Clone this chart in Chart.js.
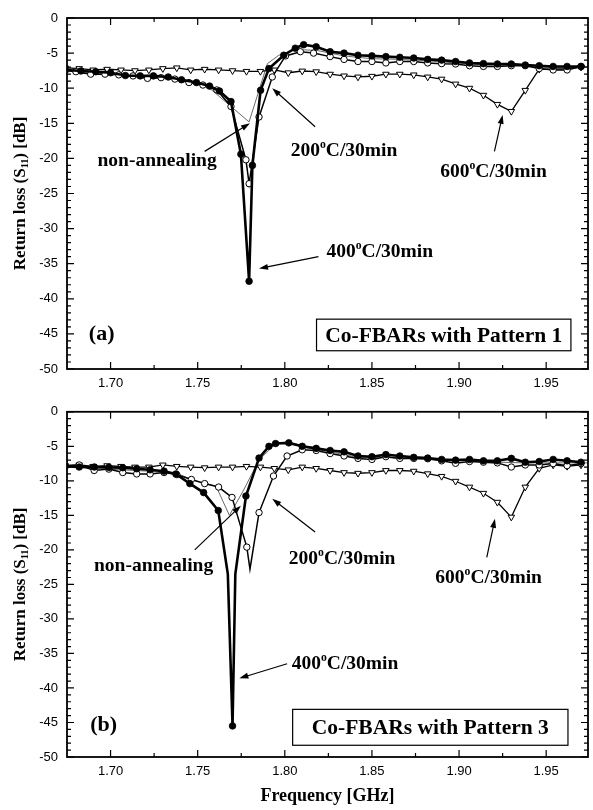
<!DOCTYPE html>
<html>
<head>
<meta charset="utf-8">
<script src="https://cdn.jsdelivr.net/npm/chart.js@4.4.1/dist/chart.umd.min.js"></script>
<style>
  html, body { margin: 0; padding: 0; background: #fff; }
  .panel { position: absolute; left: 0; width: 593px; }
  #wrapA { top: 0; height: 395px; }
  #wrapB { top: 395px; height: 415px; }
</style>
</head>
<body>
<div class="panel" id="wrapA"><canvas id="chartA"></canvas></div>
<div class="panel" id="wrapB"><canvas id="chartB"></canvas></div>
<script>
/* ===== DATA ===== */
const xTicks = [1.70, 1.75, 1.80, 1.85, 1.90, 1.95];
const yTicks = [0, -5, -10, -15, -20, -25, -30, -35, -40, -45, -50];

// (a) Pattern 1
const a400Freq = [1.674, 1.683, 1.6915, 1.700, 1.7085, 1.717, 1.7246, 1.7331, 1.7407, 1.7493, 1.7568, 1.7625, 1.7691, 1.7748, 1.7795, 1.7814, 1.7861, 1.7909, 1.7994, 1.806, 1.8108, 1.818, 1.826, 1.834, 1.842, 1.850, 1.858, 1.866, 1.874, 1.882, 1.890, 1.898, 1.906, 1.914, 1.922, 1.930, 1.938, 1.946, 1.954, 1.962, 1.970];
const a400Db   = [-7.4, -7.55, -7.65, -7.8, -8.2, -8.25, -8.25, -8.4, -8.8, -9.2, -9.7, -10.4, -11.9, -19.4, -37.5, -21.0, -10.3, -7.2, -5.3, -4.3, -3.8, -4.1, -4.8, -5.0, -5.3, -5.4, -5.5, -5.6, -5.7, -5.9, -6.0, -6.2, -6.4, -6.5, -6.55, -6.55, -6.7, -6.8, -6.9, -6.9, -6.9];

const a200Freq = [1.674, 1.6801, 1.6886, 1.6968, 1.7047, 1.7129, 1.7212, 1.729, 1.7369, 1.745, 1.753, 1.761, 1.7691, 1.7777, 1.7795, 1.7852, 1.7928, 1.8004, 1.8089, 1.8165, 1.826, 1.834, 1.842, 1.850, 1.858, 1.866, 1.874, 1.882, 1.890, 1.898, 1.906, 1.914, 1.922, 1.930, 1.938, 1.946, 1.954, 1.962, 1.970];
const a200Db   = [-7.5, -7.65, -8.0, -8.0, -8.1, -8.25, -8.6, -8.5, -8.7, -9.2, -9.55, -10.25, -12.6, -20.2, -23.6, -14.1, -8.4, -5.4, -4.8, -5.0, -5.5, -5.9, -6.2, -6.2, -6.4, -6.2, -6.2, -6.4, -6.5, -6.55, -6.8, -6.9, -6.9, -6.8, -6.8, -7.2, -7.4, -7.4, -6.9];

const aNonFreq = [1.674, 1.690, 1.706, 1.722, 1.738, 1.754, 1.7691, 1.7795, 1.790, 1.7966, 1.806, 1.818, 1.834, 1.850, 1.866, 1.882, 1.898, 1.914, 1.930, 1.946, 1.962, 1.974];
const aNonDb   = [-7.4, -7.8, -8.1, -8.4, -8.6, -9.4, -12.6, -14.8, -6.5, -5.3, -4.5, -4.6, -5.4, -5.8, -5.9, -6.1, -6.4, -6.7, -6.7, -7.0, -7.1, -6.9];

const a600Freq = [1.674, 1.682, 1.690, 1.698, 1.706, 1.714, 1.722, 1.730, 1.738, 1.746, 1.754, 1.762, 1.770, 1.778, 1.786, 1.794, 1.802, 1.810, 1.818, 1.826, 1.834, 1.842, 1.850, 1.858, 1.866, 1.874, 1.882, 1.890, 1.898, 1.906, 1.914, 1.922, 1.930, 1.938, 1.946, 1.954, 1.962, 1.970];
const a600Db   = [-7.1, -7.2, -7.4, -7.3, -7.4, -7.5, -7.4, -7.2, -7.1, -7.4, -7.3, -7.4, -7.5, -7.6, -7.6, -7.4, -7.8, -7.55, -7.65, -8.0, -8.25, -8.4, -8.3, -8.0, -8.0, -8.1, -8.4, -8.7, -9.4, -10.0, -11.0, -12.3, -13.3, -10.3, -7.3, -7.3, -7.2, -7.0];

// (b) Pattern 3
const b400Freq = [1.674, 1.682, 1.6907, 1.699, 1.707, 1.715, 1.7227, 1.7307, 1.7375, 1.7455, 1.7534, 1.7618, 1.7673, 1.770, 1.7716, 1.7777, 1.7852, 1.7909, 1.7947, 1.8023, 1.810, 1.818, 1.826, 1.834, 1.842, 1.850, 1.858, 1.866, 1.874, 1.882, 1.890, 1.898, 1.906, 1.914, 1.922, 1.930, 1.938, 1.946, 1.954, 1.962, 1.970];
const b400Db   = [-7.9, -8.0, -8.0, -8.05, -8.1, -8.25, -8.4, -8.6, -9.0, -10.4, -11.7, -14.3, -23.5, -45.5, -23.5, -12.2, -6.7, -5.0, -4.6, -4.5, -5.0, -5.3, -5.6, -5.8, -6.4, -6.5, -6.2, -6.4, -6.6, -6.7, -6.9, -7.0, -6.9, -7.1, -7.1, -6.75, -7.3, -7.2, -6.9, -7.1, -7.3];
const b400Plain = [1.7673, 1.7716];   // curve points without a marker

const b200Freq = [1.674, 1.682, 1.6906, 1.699, 1.707, 1.715, 1.7227, 1.7307, 1.738, 1.7464, 1.754, 1.762, 1.7697, 1.7782, 1.780, 1.7852, 1.7935, 1.8013, 1.810, 1.818, 1.826, 1.834, 1.842, 1.850, 1.858, 1.866, 1.874, 1.882, 1.890, 1.898, 1.906, 1.914, 1.922, 1.930, 1.938, 1.946, 1.954, 1.962, 1.970];
const b200Db   = [-7.8, -7.7, -8.5, -8.3, -8.8, -9.0, -9.0, -8.8, -9.1, -9.8, -10.4, -10.9, -12.4, -19.6, -22.8, -14.6, -9.3, -6.4, -5.5, -5.6, -6.05, -6.4, -6.75, -6.9, -6.5, -6.75, -6.75, -6.8, -7.1, -7.46, -7.2, -7.3, -7.4, -8.0, -7.7, -7.7, -7.5, -7.8, -7.5];
const b200Plain = [1.780];

const bNonFreq = [1.674, 1.690, 1.706, 1.722, 1.738, 1.7464, 1.7606, 1.7682, 1.776, 1.7852, 1.7947, 1.803, 1.810, 1.826, 1.842, 1.858, 1.874, 1.890, 1.906, 1.922, 1.938, 1.954, 1.974];
const bNonDb   = [-7.9, -8.2, -8.4, -8.6, -8.9, -9.8, -10.8, -15.0, -11.5, -7.0, -4.6, -4.6, -5.1, -5.8, -6.6, -6.6, -6.8, -7.0, -7.1, -7.3, -7.4, -7.4, -7.4];

const b600Freq = a600Freq;
const b600Db   = [-7.8, -7.7, -7.9, -7.8, -7.9, -8.0, -8.0, -7.7, -7.9, -8.0, -8.1, -8.0, -8.0, -7.9, -8.0, -8.2, -8.4, -8.0, -8.2, -8.5, -8.8, -8.9, -8.8, -8.5, -8.5, -8.6, -8.97, -9.35, -10.06, -10.9, -11.8, -13.1, -15.25, -10.9, -8.2, -7.7, -7.9, -7.7];

/* ===== HELPERS ===== */
const pts = (f, d) => f.map((v, i) => ({ x: v, y: d[i] }));
const SERIF = '"Liberation Serif", "Times New Roman", serif';
const SANS = '"Liberation Sans", Arial, sans-serif';
const T400 = [['400'], ['o', 'sup'], ['C/30min']];
const T200 = [['200'], ['o', 'sup'], ['C/30min']];
const T600 = [['600'], ['o', 'sup'], ['C/30min']];
const TNON = [['non-annealing']];
const YTITLE = [['Return loss (S'], ['11', 'sub'], [') [dB]']];

function richText(ctx, parts, x, y, size, align) {
  const w = parts.map(p => {
    ctx.font = `bold ${p[1] ? size * 0.6 : size}px ${SERIF}`;
    return ctx.measureText(p[0]).width;
  });
  const total = w.reduce((a, b) => a + b, 0);
  let cx = align === 'center' ? x - total / 2 : x;
  ctx.textBaseline = 'alphabetic';
  ctx.textAlign = 'left';
  const base = y + size * 0.33;
  parts.forEach((p, i) => {
    ctx.font = `bold ${p[1] ? size * 0.6 : size}px ${SERIF}`;
    const dy = p[1] === 'sup' ? -size * 0.42 : p[1] === 'sub' ? size * 0.2 : 0;
    ctx.fillText(p[0], cx, base + dy);
    cx += w[i];
  });
}

function arrow(ctx, x1, y1, x2, y2) {
  const a = Math.atan2(y2 - y1, x2 - x1), L = 9, W = 3;
  ctx.lineWidth = 1.2;
  ctx.beginPath();
  ctx.moveTo(x1, y1);
  ctx.lineTo(x2 - Math.cos(a) * L * 0.8, y2 - Math.sin(a) * L * 0.8);
  ctx.stroke();
  ctx.beginPath();
  ctx.moveTo(x2, y2);
  ctx.lineTo(x2 - L * Math.cos(a) + W * Math.sin(a), y2 - L * Math.sin(a) - W * Math.cos(a));
  ctx.lineTo(x2 - L * Math.cos(a) - W * Math.sin(a), y2 - L * Math.sin(a) + W * Math.cos(a));
  ctx.closePath();
  ctx.fill();
}

/* ===== FRAME, TICKS, NOTES ===== */
const decor = {
  id: 'decor',
  afterDatasetsDraw(chart, args, o) {
    const { ctx, chartArea: ca, scales: { x, y } } = chart;
    ctx.save();
    ctx.strokeStyle = '#000';
    ctx.fillStyle = '#000';

    // inward ticks on all four sides
    ctx.lineWidth = 1.2;
    ctx.beginPath();
    xTicks.forEach(v => {
      [[v, 7], [v + 0.025, 4]].forEach(([t, len]) => {
        const px = x.getPixelForValue(t);
        if (px < ca.left || px > ca.right) return;
        ctx.moveTo(px, ca.bottom); ctx.lineTo(px, ca.bottom - len);
        ctx.moveTo(px, ca.top); ctx.lineTo(px, ca.top + len);
      });
    });
    for (let t = -50; t <= 0; t++) {
      const py = y.getPixelForValue(t);
      const len = t % 5 === 0 ? 7 : 4;
      ctx.moveTo(ca.left, py); ctx.lineTo(ca.left + len, py);
      ctx.moveTo(ca.right, py); ctx.lineTo(ca.right - len, py);
    }
    ctx.stroke();

    ctx.lineWidth = 1.8;
    ctx.strokeRect(ca.left, ca.top, ca.width, ca.height);

    // y title
    ctx.save();
    ctx.translate(19, (ca.top + ca.bottom) / 2);
    ctx.rotate(-Math.PI / 2);
    richText(ctx, YTITLE, 0, 0, 17, 'center');
    ctx.restore();

    // annotations
    o.notes.forEach(n => {
      arrow(ctx, x.getPixelForValue(n.from[0]), y.getPixelForValue(n.from[1]),
                 x.getPixelForValue(n.to[0]), y.getPixelForValue(n.to[1]));
      richText(ctx, n.text, x.getPixelForValue(n.at[0]), y.getPixelForValue(n.at[1]), 19.5, n.align);
    });

    // panel tag
    richText(ctx, [[o.tag]], x.getPixelForValue(o.tagAt[0]), y.getPixelForValue(o.tagAt[1]), 22, 'center');

    // legend box
    const bl = x.getPixelForValue(o.box[0]), br = x.getPixelForValue(o.box[1]);
    const bt = y.getPixelForValue(o.box[2]), bb = y.getPixelForValue(o.box[3]);
    ctx.fillStyle = '#fff';
    ctx.fillRect(bl, bt, br - bl, bb - bt);
    ctx.fillStyle = '#000';
    ctx.lineWidth = 1.2;
    ctx.strokeRect(bl, bt, br - bl, bb - bt);
    richText(ctx, [[o.boxText]], (bl + br) / 2, (bt + bb) / 2, 21.5, 'center');
    ctx.restore();
  }
};

function datasets(s) {
  const plainR = (plain, r) => ctx => (plain.includes(ctx.raw.x) ? 0 : r);
  return [
    { data: pts(s.f400, s.d400), borderColor: '#000', backgroundColor: '#000', borderWidth: 2.6,
      pointRadius: plainR(s.p400, 3.3), pointBackgroundColor: '#000', pointBorderWidth: 0.8 },
    { data: pts(s.f200, s.d200), borderColor: '#000', borderWidth: 1.5,
      pointRadius: plainR(s.p200, 3.2), pointBackgroundColor: '#fff', pointBorderColor: '#000', pointBorderWidth: 1 },
    { data: pts(s.f600, s.d600), borderColor: '#000', borderWidth: 1.3, pointStyle: 'triangle', rotation: 180,
      pointRadius: 3.8, pointBackgroundColor: '#fff', pointBorderColor: '#000', pointBorderWidth: 1 },
    { data: pts(s.fNon, s.dNon), borderColor: '#444', borderWidth: 0.8, pointRadius: 0 }
  ];
}

function makePanel(id, s, cfg) {
  return new Chart(document.getElementById(id), {
    type: 'line',
    data: { datasets: datasets(s) },
    options: {
      responsive: true,
      maintainAspectRatio: false,
      animation: false,
      layout: { padding: { top: cfg.padTop, right: 1, left: 0, bottom: 0 } },
      elements: { line: { tension: 0 } },
      plugins: { legend: { display: false }, tooltip: { enabled: false }, decor: cfg },
      scales: {
        x: {
          type: 'linear', min: 1.675, max: 1.974,
          afterBuildTicks: sc => { sc.ticks = xTicks.map(v => ({ value: v })); },
          afterFit: sc => { sc.height = cfg.xH; },
          grid: { display: false, drawTicks: false }, border: { display: false },
          ticks: { color: '#000', padding: 7, maxRotation: 0, autoSkip: false,
                   font: { family: SANS, size: 13 }, callback: v => v.toFixed(2) },
          title: { display: cfg.xTitle, text: 'Frequency [GHz]', color: '#000',
                   font: { family: SERIF, size: 18, weight: 'bold' }, padding: { top: 0, bottom: 3 } }
        },
        y: {
          min: -50, max: 0,
          afterBuildTicks: sc => { sc.ticks = yTicks.map(v => ({ value: v })); },
          afterFit: sc => { sc.width = 67; },
          grid: { display: false, drawTicks: false }, border: { display: false },
          ticks: { color: '#000', padding: 9, font: { family: SANS, size: 13 } }
        }
      }
    },
    plugins: [decor]
  });
}

makePanel('chartA', {
  f400: a400Freq, d400: a400Db, p400: [],
  f200: a200Freq, d200: a200Db, p200: [],
  f600: a600Freq, d600: a600Db,
  fNon: aNonFreq, dNon: aNonDb
}, {
  padTop: 18, xH: 26, xTitle: false,
  tag: '(a)', tagAt: [1.6949, -44.9],
  box: [1.8182, 1.9642, -42.9, -47.4], boxText: 'Co-FBARs with Pattern 1',
  notes: [
    { text: TNON, at: [1.7267, -20.2], align: 'center', from: [1.754, -19.0], to: [1.780, -15.0] },
    { text: T200, at: [1.8034, -18.8], align: 'left', from: [1.8174, -15.5], to: [1.7928, -10.0] },
    { text: T600, at: [1.8892, -21.7], align: 'left', from: [1.9203, -19.0], to: [1.925, -13.8] },
    { text: T400, at: [1.8239, -33.2], align: 'left', from: [1.8193, -34.0], to: [1.7852, -35.7] }
  ]
});

makePanel('chartB', {
  f400: b400Freq, d400: b400Db, p400: b400Plain,
  f200: b200Freq, d200: b200Db, p200: b200Plain,
  f600: b600Freq, d600: b600Db,
  fNon: bNonFreq, dNon: bNonDb
}, {
  padTop: 9, xH: 53, xTitle: true,
  tag: '(b)', tagAt: [1.6960, -45.2],
  box: [1.8045, 1.9625, -43.1, -48.3], boxText: 'Co-FBARs with Pattern 3',
  notes: [
    { text: TNON, at: [1.7247, -22.1], align: 'center', from: [1.7483, -20.0], to: [1.7748, -13.6] },
    { text: T200, at: [1.8023, -21.1], align: 'left', from: [1.8174, -17.4], to: [1.7928, -12.6] },
    { text: T600, at: [1.8864, -23.9], align: 'left', from: [1.9159, -21.1], to: [1.9206, -15.5] },
    { text: T400, at: [1.804, -36.3], align: 'left', from: [1.8013, -36.5], to: [1.7739, -38.6] }
  ]
});
</script>
</body>
</html>
